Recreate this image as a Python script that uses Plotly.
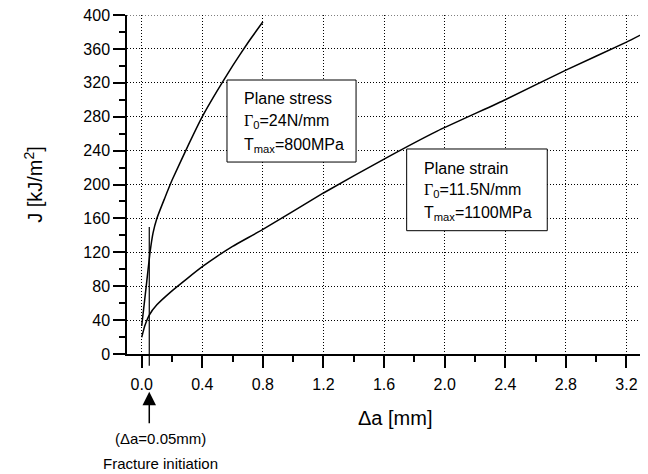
import plotly.graph_objects as go

# ---- data ----
stress_x = [0.0, 0.03, 0.055, 0.075, 0.10, 0.15, 0.20, 0.30, 0.40, 0.50, 0.60, 0.70, 0.80]
stress_J = [33, 80, 120, 143, 160, 183, 205, 243.5, 280, 311, 340, 367, 392]

strain_x = [0.0, 0.02, 0.05, 0.10, 0.20, 0.30, 0.40, 0.50, 0.60, 0.80, 1.20, 1.60, 1.95,
            2.40, 2.80, 3.20, 3.342]
strain_J = [19.7, 33, 46, 58, 74.5, 89, 103, 115.5, 127, 147, 190, 230, 263,
            300, 335, 368, 381]

x_ticks = [0.0, 0.4, 0.8, 1.2, 1.6, 2.0, 2.4, 2.8, 3.2]
x_ticklabels = ["0.0", "0.4", "0.8", "1.2", "1.6", "2.0", "2.4", "2.8", "3.2"]
y_ticks = [0, 40, 80, 120, 160, 200, 240, 280, 320, 360, 400]

init_da = 0.05        # fracture initiation
init_line_top = 150   # J value where the marker line ends

FONT = "Liberation Sans, Arial, sans-serif"
SERIF = "Liberation Serif, Times New Roman, serif"

fig = go.Figure()
fig.add_trace(go.Scatter(x=stress_x, y=stress_J, mode="lines",
                         line=dict(color="black", width=1.5, shape="spline", smoothing=0.4),
                         name="Plane stress", showlegend=False))
fig.add_trace(go.Scatter(x=strain_x, y=strain_J, mode="lines",
                         line=dict(color="black", width=1.5, shape="spline", smoothing=0.4),
                         name="Plane strain", showlegend=False))

x_lo, x_hi = -0.097, 3.342
y_lo, y_hi = 0, 400

# top dotted grid line at the end of the y range
fig.add_shape(type="line", xref="paper", yref="y", x0=0, x1=1, y0=y_ticks[-1], y1=y_ticks[-1],
              line=dict(color="black", width=1, dash="1px,2px"), layer="below")

# fracture-initiation line (extends slightly below the x axis)
fig.add_shape(type="line", xref="x", yref="paper",
              x0=init_da, x1=init_da, y0=init_line_top / y_hi, y1=-0.035,
              line=dict(color="black", width=1.2))

# boxes
fig.add_shape(type="rect", xref="x", yref="y", x0=0.563, x1=1.415, y0=226.5, y1=323.3,
              line=dict(color="black", width=1), fillcolor="white", layer="above")
fig.add_shape(type="rect", xref="x", yref="y", x0=1.749, x1=2.677, y0=145.5, y1=241.9,
              line=dict(color="black", width=1), fillcolor="white", layer="above")

G = f'<span style="font-family:{SERIF}">Γ</span>'
box_texts = [
    (0.66, 301.7, "Plane stress"),
    (0.66, 274.1, G + "<sub>0</sub>=24N/mm"),
    (0.66, 246.6, "T<sub>max</sub>=800MPa"),
    (1.852, 219.1, "Plane strain"),
    (1.852, 192.7, G + "<sub>0</sub>=11.5N/mm"),
    (1.852, 166.0, "T<sub>max</sub>=1100MPa"),
]
for bx, by, t in box_texts:
    fig.add_annotation(x=bx, y=by, xref="x", yref="y", text=t, showarrow=False,
                       xanchor="left", yanchor="middle",
                       font=dict(family=FONT, size=16, color="black"))

# arrow + labels for fracture initiation
fig.add_annotation(x=init_da, y=-0.111, xref="x", yref="paper", text="",
                   showarrow=True, ax=0, ay=33, axref="pixel", ayref="pixel",
                   arrowhead=2, arrowsize=1.8, arrowwidth=1.5, arrowcolor="black")
fig.add_annotation(x=0.127, y=-0.2507, xref="x", yref="paper", text="(Δa=0.05mm)",
                   showarrow=False, xanchor="center", yanchor="middle",
                   font=dict(family=FONT, size=15, color="black"))
fig.add_annotation(x=0.127, y=-0.322, xref="x", yref="paper", text="Fracture initiation",
                   showarrow=False, xanchor="center", yanchor="middle",
                   font=dict(family=FONT, size=15, color="black"))

# x-axis title
fig.add_annotation(x=1.672, y=-0.19, xref="x", yref="paper", text="Δa [mm]",
                   showarrow=False, xanchor="center", yanchor="middle",
                   font=dict(family=FONT, size=20, color="black"))

grid = dict(showgrid=True, gridcolor="black", gridwidth=1, griddash="1px,2px")

fig.update_xaxes(range=[x_lo, x_hi], tickvals=x_ticks, ticktext=x_ticklabels,
                 ticks="outside", ticklen=12, tickwidth=1.5, tickcolor="black",
                 ticklabelstandoff=3, ticklabeloverflow="allow",
                 showline=True, linecolor="black", linewidth=1.5,
                 zeroline=False, tickfont=dict(family=FONT, size=16, color="black"),
                 minor=dict(dtick=0.2, tick0=0, ticks="outside", ticklen=6, tickwidth=1.5,
                            tickcolor="black", showgrid=False),
                 **grid)
fig.update_yaxes(range=[y_lo, y_hi], tickvals=y_ticks,
                 ticks="outside", ticklen=12, tickwidth=1.5, tickcolor="black",
                 ticklabeloverflow="allow",
                 showline=True, linecolor="black", linewidth=1.5,
                 zeroline=False, tickfont=dict(family=FONT, size=16, color="black"),
                 minor=dict(dtick=20, tick0=0, ticks="outside", ticklen=6, tickwidth=1.5,
                            tickcolor="black", showgrid=False),
                 title=dict(text="J [kJ/m<sup>2</sup>]", font=dict(family=FONT, size=20, color="black"),
                            standoff=35),
                 **grid)

# the page adds an 8px body margin, so the figure is drawn 8px smaller with the plot area
# landing on the same page pixels as the reference
fig.update_layout(width=640, height=466, margin=dict(l=119, r=0, t=7, b=120, autoexpand=False),
                  plot_bgcolor="white", paper_bgcolor="white", showlegend=False)

fig.write_html("out.html")
